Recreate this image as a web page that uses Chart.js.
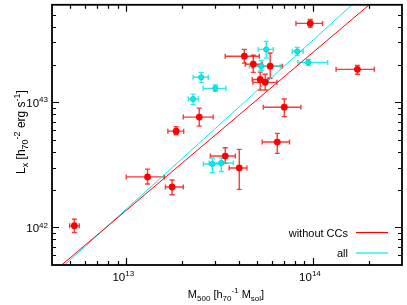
<!DOCTYPE html>
<html>
<head>
<meta charset="utf-8">
<title>Lx - M500</title>
<script src="https://cdn.jsdelivr.net/npm/chart.js"></script>
<style>
  body { margin: 0; background: #fff; }
  #chart { display: block; }
</style>
</head>
<body>
<canvas id="chart" width="407" height="305"></canvas>
<script>
// clusters without CCs (red): M500, its error range, Lx and its error range
const massNoCC   = [5.27e12, 1.30e13, 1.76e13, 1.85e13, 2.46e13, 3.39e13, 4.03e13, 4.29e13, 4.79e13, 5.90e13, 5.22e13, 5.55e13, 7.02e13, 6.44e13, 9.67e13, 1.73e14];
const massNoCCLo = [4.97e12, 1.00e13, 1.62e13, 1.67e13, 2.02e13, 2.82e13, 3.56e13, 3.39e13, 4.34e13, 4.73e13, 4.73e13, 4.77e13, 5.42e13, 5.35e13, 8.11e13, 1.33e14];
const massNoCCHi = [5.60e12, 1.60e13, 2.02e13, 2.03e13, 2.92e13, 3.84e13, 4.43e13, 5.16e13, 5.35e13, 6.85e13, 5.75e13, 6.41e13, 8.62e13, 7.49e13, 1.126e14, 2.13e14];
const lumNoCC    = [1.03e42, 2.53e42, 2.10e42, 5.87e42, 7.60e42, 3.71e42, 2.98e42, 2.33e43, 2.01e43, 1.94e43, 1.52e43, 1.44e43, 9.12e42, 4.80e42, 4.26e43, 1.83e43];
const lumNoCCLo  = [0.91e42, 2.22e42, 1.82e42, 5.49e42, 6.44e42, 3.25e42, 2.01e42, 2.05e43, 1.73e43, 1.55e43, 1.25e43, 1.25e43, 7.67e42, 3.90e42, 3.96e43, 1.67e43];
const lumNoCCHi  = [1.16e42, 2.92e42, 2.39e42, 6.36e42, 8.96e42, 4.32e42, 4.20e42, 2.64e43, 2.37e43, 2.47e43, 1.74e43, 1.67e43, 1.06e43, 5.63e42, 4.58e43, 1.97e43];

// the remaining clusters of the full sample (cyan)
const massCC   = [2.28e13, 2.52e13, 3.00e13, 2.89e13, 3.23e13, 5.62e13, 5.28e13, 8.24e13, 9.44e13];
const massCCLo = [2.15e13, 2.28e13, 2.58e13, 2.59e13, 2.78e13, 5.09e13, 4.56e13, 7.75e13, 8.31e13];
const massCCHi = [2.43e13, 2.75e13, 3.42e13, 3.19e13, 3.74e13, 6.13e13, 6.68e13, 8.87e13, 1.20e14];
const lumCC    = [1.06e43, 1.58e43, 1.29e43, 3.21e42, 3.27e42, 2.64e43, 1.94e43, 2.55e43, 2.08e43];
const lumCCLo  = [0.96e43, 1.44e43, 1.22e43, 2.73e42, 2.79e42, 2.25e43, 1.80e43, 2.37e43, 1.97e43];
const lumCCHi  = [1.16e43, 1.73e43, 1.37e43, 3.58e42, 3.58e42, 3.06e43, 2.16e43, 2.74e43, 2.20e43];

// power-law fits, given at the ends of the mass range
const fitMass = [4e12, 3e14];
const fitNoCC = [4.3e41, 1.0e44];
const fitAll  = [4.06e41, 1.38e44];

// axes
const xMajor = [1e13, 1e14];
const xMinor = [5e12, 6e12, 7e12, 8e12, 9e12, 2e13, 3e13, 4e13, 5e13, 6e13, 7e13, 8e13, 9e13, 2e14, 3e14];
const yMajor = [1e42, 1e43];
const yMinor = [5e41, 6e41, 7e41, 8e41, 9e41, 2e42, 3e42, 4e42, 5e42, 6e42, 7e42, 8e42, 9e42, 2e43, 3e43, 4e43, 5e43, 6e43];
const xTickLabels = [[['10', 0], ['13', 1]], [['10', 0], ['14', 1]]];
const yTickLabels = [[['10', 0], ['42', 1]], [['10', 0], ['43', 1]]];
const xTitle = [['M', 0], ['500', -1], [' [h', 0], ['70', -1], ['-1', 1], [' M', 0], ['sol', -1], [']', 0]];
const yTitle = [['L', 0], ['x', -1], [' [h', 0], ['70', -1], ['-2', 1], [' erg s', 0], ['-1', 1], [']', 0]];

const RED = '#ff0000';
const CYAN = '#00eeee';
const FONT = '"Liberation Sans", Arial, sans-serif';

function pts(xs, ys) { return xs.map((x, i) => ({ x: x, y: ys[i] })); }

function setFont(ctx, mode, size) {
  size = size || 11;
  ctx.font = (mode === 0 ? size : Math.round(size * 0.73)) + 'px ' + FONT;
}
function richWidth(ctx, parts, size) {
  let w = 0;
  parts.forEach(p => { setFont(ctx, p[1], size); w += ctx.measureText(p[0]).width; });
  return w;
}
function drawRich(ctx, parts, x, y, size) {
  size = size || 11;
  ctx.textAlign = 'left';
  ctx.textBaseline = 'alphabetic';
  parts.forEach(p => {
    setFont(ctx, p[1], size);
    const dy = p[1] === -1 ? size * 0.27 : (p[1] === 1 ? -size * 0.41 : 0);
    ctx.fillText(p[0], x, y + dy);
    x += ctx.measureText(p[0]).width;
  });
}

const errorBars = {
  id: 'errorBars',
  beforeDatasetsDraw(chart) {
    const ctx = chart.ctx, xs = chart.scales.x, ys = chart.scales.y;
    const a = chart.chartArea;
    ctx.save();
    ctx.beginPath();
    ctx.rect(a.left, a.top, a.right - a.left, a.bottom - a.top);
    ctx.clip();
    chart.data.datasets.forEach(ds => {
      if (!ds.xLo) return;
      ctx.strokeStyle = ds.barColor;
      ctx.lineWidth = 1.4;
      ds.data.forEach((p, i) => {
        const px = xs.getPixelForValue(p.x), py = ys.getPixelForValue(p.y);
        const x0 = xs.getPixelForValue(ds.xLo[i]), x1 = xs.getPixelForValue(ds.xHi[i]);
        const y0 = ys.getPixelForValue(ds.yLo[i]), y1 = ys.getPixelForValue(ds.yHi[i]);
        const c = 2.5;
        ctx.beginPath();
        ctx.moveTo(x0, py); ctx.lineTo(x1, py);
        ctx.moveTo(x0, py - c); ctx.lineTo(x0, py + c);
        ctx.moveTo(x1, py - c); ctx.lineTo(x1, py + c);
        ctx.moveTo(px, y0); ctx.lineTo(px, y1);
        ctx.moveTo(px - c, y0); ctx.lineTo(px + c, y0);
        ctx.moveTo(px - c, y1); ctx.lineTo(px + c, y1);
        ctx.stroke();
      });
    });
    ctx.restore();
  }
};

const frame = {
  id: 'frame',
  afterDraw(chart) {
    const ctx = chart.ctx, xs = chart.scales.x, ys = chart.scales.y;
    const a = chart.chartArea;
    ctx.save();
    ctx.strokeStyle = '#000';
    ctx.lineWidth = 1.2;
    ctx.beginPath();
    const tick = (vals, len) => {
      vals.forEach(v => {
        const px = Math.round(xs.getPixelForValue(v)) + 0.5;
        if (px > a.left + 1 && px < a.right - 1) {
          ctx.moveTo(px, a.bottom); ctx.lineTo(px, a.bottom - len);
          ctx.moveTo(px, a.top); ctx.lineTo(px, a.top + len);
        }
      });
    };
    const ytick = (vals, len) => {
      vals.forEach(v => {
        const py = Math.round(ys.getPixelForValue(v)) + 0.5;
        if (py > a.top + 1 && py < a.bottom - 1) {
          ctx.moveTo(a.left, py); ctx.lineTo(a.left + len, py);
          ctx.moveTo(a.right, py); ctx.lineTo(a.right - len, py);
        }
      });
    };
    tick(xMajor, 7); tick(xMinor, 4);
    ytick(yMajor, 7); ytick(yMinor, 4);
    ctx.stroke();
    ctx.lineWidth = 1.8;
    ctx.strokeRect(a.left, a.top, a.right - a.left, a.bottom - a.top);

    // tick labels
    ctx.fillStyle = '#000';
    xTickLabels.forEach((parts, i) => {
      const px = xs.getPixelForValue(xMajor[i]);
      const w = richWidth(ctx, parts, 11.5);
      drawRich(ctx, parts, px - 3 - w / 2, a.bottom + 16, 11.5);
    });
    yTickLabels.forEach((parts, i) => {
      const py = ys.getPixelForValue(yMajor[i]);
      const w = richWidth(ctx, parts, 11.5);
      drawRich(ctx, parts, a.left - 4 - w, py + 5, 11.5);
    });

    // axis titles
    const wx = richWidth(ctx, xTitle, 11);
    drawRich(ctx, xTitle, 226 - wx / 2, 298, 11);
    const wy = richWidth(ctx, yTitle, 12);
    ctx.save();
    ctx.translate(25, 132);
    ctx.rotate(-Math.PI / 2);
    drawRich(ctx, yTitle, -wy / 2, 0, 12);
    ctx.restore();

    // legend
    const lines = chart.data.datasets.filter(d => d.showLine);
    lines.forEach((d, i) => {
      const y = 232.5 + i * 20.5;
      setFont(ctx, 0, 11);
      ctx.textAlign = 'right';
      ctx.textBaseline = 'middle';
      ctx.fillText(d.label, 348, y + 1);
      ctx.strokeStyle = d.borderColor;
      ctx.lineWidth = 1.2;
      ctx.beginPath();
      ctx.moveTo(356, y); ctx.lineTo(388, y);
      ctx.stroke();
    });
    ctx.restore();
  }
};

new Chart(document.getElementById('chart'), {
  type: 'scatter',
  data: {
    datasets: [
      {
        label: 'without CCs points',
        data: pts(massNoCC, lumNoCC),
        xLo: massNoCCLo, xHi: massNoCCHi, yLo: lumNoCCLo, yHi: lumNoCCHi,
        barColor: 'rgba(255,20,20,0.85)',
        backgroundColor: RED,
        borderColor: RED,
        pointRadius: 3.4,
        borderWidth: 0,
        order: 1
      },
      {
        label: 'all points',
        data: pts(massCC, lumCC),
        xLo: massCCLo, xHi: massCCHi, yLo: lumCCLo, yHi: lumCCHi,
        barColor: 'rgba(0,235,235,0.85)',
        backgroundColor: CYAN,
        borderColor: 'rgba(0,200,210,1)',
        pointRadius: 2.6,
        borderWidth: 0.8,
        order: 2
      },
      {
        label: 'without CCs',
        data: pts(fitMass, fitNoCC),
        showLine: true,
        borderColor: RED,
        borderWidth: 1,
        pointRadius: 0,
        clip: 0,
        order: 3
      },
      {
        label: 'all',
        data: pts(fitMass, fitAll),
        showLine: true,
        borderColor: CYAN,
        borderWidth: 1,
        pointRadius: 0,
        clip: 0,
        order: 4
      }
    ]
  },
  options: {
    responsive: false,
    devicePixelRatio: 1,
    animation: false,
    layout: { padding: { left: 52, top: 4, right: 5, bottom: 40 } },
    plugins: { legend: { display: false }, tooltip: { enabled: false } },
    scales: {
      x: { type: 'logarithmic', min: 4e12, max: 3e14, display: false },
      y: { type: 'logarithmic', min: 5e41, max: 6e43, display: false }
    }
  },
  plugins: [errorBars, frame]
});
</script>
</body>
</html>
